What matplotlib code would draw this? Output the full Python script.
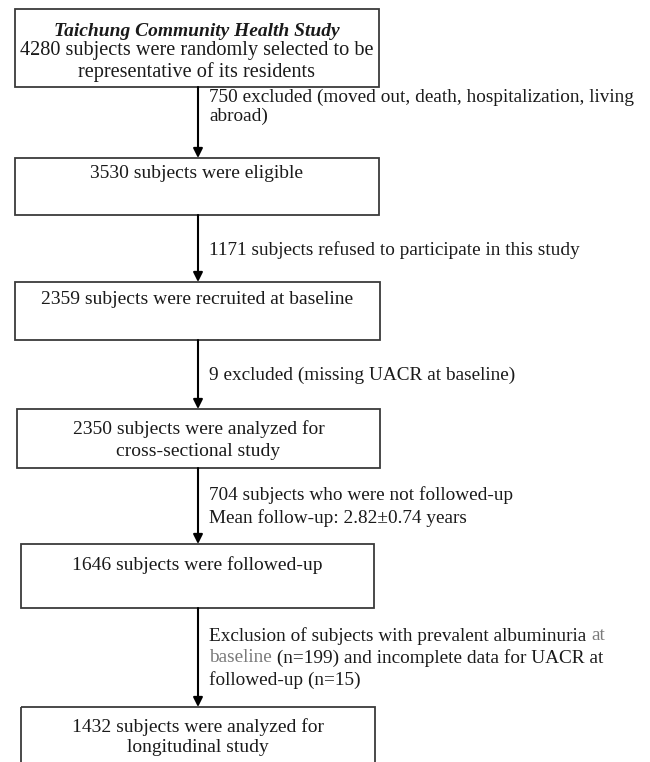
import matplotlib.pyplot as plt
from matplotlib.patches import Rectangle

plt.rcParams['font.family'] = ['Liberation Serif', 'DejaVu Serif']

# flowchart content
title = "Taichung Community Health Study"
box_texts = [
    ["4280 subjects were randomly selected to be", "representative of its residents"],
    ["3530 subjects were eligible"],
    ["2359 subjects were recruited at baseline"],
    ["2350 subjects were analyzed for", "cross-sectional study"],
    ["1646 subjects were followed-up"],
    ["1432 subjects were analyzed for", "longitudinal study"],
]
# each line is a list of (text, faded) pieces
step_texts = [
    [[("750 excluded (moved out, death, hospitalization, living", False)],
     [("abroad)", False)]],
    [[("1171 subjects refused to participate in this study", False)]],
    [[("9 excluded (missing UACR at baseline)", False)]],
    [[("704 subjects who were not followed-up", False)],
     [("Mean follow-up: 2.82\u00b10.74 years", False)]],
    [[("Exclusion of subjects with prevalent albuminuria ", False), ("at", True)],
     [("baseline", True), (" (n=199) and incomplete data for UACR at", False)],
     [("followed-up (n=15)", False)]],
]

# layout in pixels (y grows downward)
W, H = 650, 762
box_x = [(15, 379), (15, 379), (15, 380), (17, 380), (21, 374), (21, 375)]
box_y = [(9, 87), (158, 215), (282, 340), (409, 468), (544, 608), (707, 800)]
box_text_y = [[51, 72], [174], [300], [429, 451], [565], [727, 748]]
box_fs = [14.6, 14, 14, 14, 14, 14]
step_text_y = [[97, 116], [250], [375], [495, 518], [636, 658, 680]]
arrow_x = 198
label_x = 209
label_fs = 13.9

fig = plt.figure(figsize=(W / 100, H / 100), dpi=100)
ax = fig.add_axes([0, 0, 1, 1])
ax.set_xlim(0, W)
ax.set_ylim(H, 0)
ax.axis('off')

box_col = '#3a3a3a'
txt_col = '#1a1a1a'
faded_col = '#7a7a7a'

for i, lines in enumerate(box_texts):
    x0, x1 = box_x[i]
    y0, y1 = box_y[i]
    ax.add_patch(Rectangle((x0, y0), x1 - x0, y1 - y0, fill=False,
                           edgecolor=box_col, lw=1.3))
    cx = (x0 + x1) / 2
    for line, y in zip(lines, box_text_y[i]):
        ax.text(cx, y, line, ha='center', va='center', fontsize=box_fs[i], color=txt_col)

ax.text((box_x[0][0] + box_x[0][1]) / 2, 31, title, ha='center', va='center',
        fontsize=14, fontweight='bold', fontstyle='italic', color=txt_col)

renderer = fig.canvas.get_renderer()
for i, lines in enumerate(step_texts):
    y_start = box_y[i][1]
    y_end = box_y[i + 1][0]
    ax.annotate('', xy=(arrow_x, y_end), xytext=(arrow_x, y_start),
                arrowprops=dict(arrowstyle='-|>', color='black', lw=1.5,
                                mutation_scale=14, shrinkA=0, shrinkB=0))
    for pieces, y in zip(lines, step_text_y[i]):
        x = label_x
        for piece, faded in pieces:
            t = ax.text(x, y, piece, ha='left', va='center', fontsize=label_fs,
                        color=faded_col if faded else txt_col)
            bb = t.get_window_extent(renderer=renderer)
            # advance in data units (1 px == 1 unit here)
            x += bb.width

fig.savefig('out.png', dpi=100)
